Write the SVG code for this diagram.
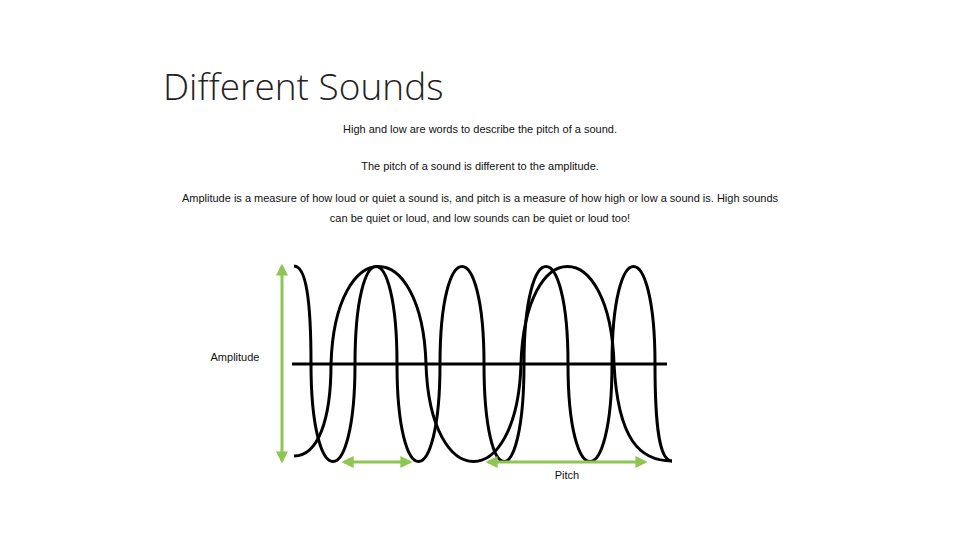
<svg xmlns="http://www.w3.org/2000/svg" width="960" height="540" viewBox="0 0 960 540">
<style>
.t{font-family:"Liberation Sans",Arial,sans-serif;font-size:11px;fill:#111;text-anchor:middle}
.w{fill:none;stroke:#000;stroke-width:3}
.g{stroke:#8DC653;stroke-width:3;fill:none}
</style>
<defs>
<marker id="ah" viewBox="0 0 10 10" refX="8" refY="5" markerWidth="4" markerHeight="4" orient="auto-start-reverse">
<path d="M0,0 L10,5 L0,10 Z" fill="#8DC653"/>
</marker>
</defs>
<rect width="960" height="540" fill="#fff"/>
<g id="title"><text x="163" y="100" font-family="'Open Sans','Liberation Sans',sans-serif" font-weight="300" font-size="37" fill="#222">Different Sounds</text></g>
<g id="body">
<text class="t" x="480" y="133">High and low are words to describe the pitch of a sound.</text>
<text class="t" x="480" y="170">The pitch of a sound is different to the amplitude.</text>
<text class="t" x="480" y="202">Amplitude is a measure of how loud or quiet a sound is, and pitch is a measure of how high or low a sound is. High sounds</text>
<text class="t" x="480" y="222">can be quiet or loud, and low sounds can be quiet or loud too!</text>
</g>
<g id="waves">
<line x1="292" y1="364" x2="667" y2="364" stroke="#000" stroke-width="3"/>
<path class="w" d="M294,266 C306,266 311,300 311,364 C311,494 355,494 355,364 C355,234 397,234 397,364 C397,494 440,494 440,364 C440,234 484,234 484,364 C484,494 524,494 524,364 C524,234 568,234 568,364 C568,494 612,494 612,364 C612,234 655,234 655,364 C655,430 660,461 672,461"/>
<path class="w" d="M294,456 C318,456 331,420 331,364 C335,234 422,234 426,364 C430,494 517,494 521,364 C525,234 610,234 614,364 C618,440 640,461 672,461"/>
</g>
<g id="connectors">
<line class="g" x1="282" y1="266" x2="282" y2="461" marker-start="url(#ah)" marker-end="url(#ah)"/>
<line class="g" x1="344" y1="462" x2="410" y2="462" marker-start="url(#ah)" marker-end="url(#ah)"/>
<line class="g" x1="488" y1="462" x2="645" y2="462" marker-start="url(#ah)" marker-end="url(#ah)"/>
</g>
<g id="labels">
<text class="t" x="235" y="361">Amplitude</text>
<text class="t" x="567" y="479">Pitch</text>
</g>
</svg>
